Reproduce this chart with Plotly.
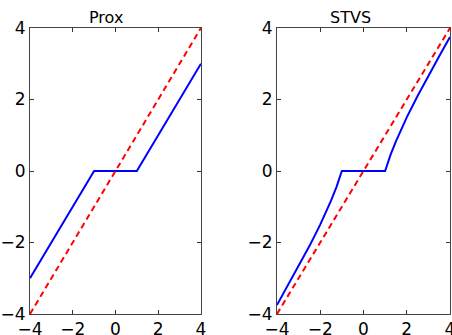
import plotly.graph_objects as go
from plotly.subplots import make_subplots

# Data
ident_x = [-4, 4]
ident_y = [-4, 4]

prox_x = [-4, -1, 1, 4]
prox_y = [-3, 0, 0, 3]

stvs_x = [-4, -3.5, -3, -2.5, -2, -1.75, -1.5, -1.25, -1, 1, 1.25, 1.5, 1.75, 2, 2.5, 3, 3.5, 4]
stvs_y = [-3.75, -3.21, -2.67, -2.1, -1.5, -1.18, -0.83, -0.45, 0, 0, 0.45, 0.83, 1.18, 1.5, 2.1, 2.67, 3.21, 3.75]

tick_vals = [-4, -2, 0, 2, 4]
titles = ["Prox", "STVS"]

fig = make_subplots(rows=1, cols=2, horizontal_spacing=0.18)

for col, (sx, sy) in enumerate([(prox_x, prox_y), (stvs_x, stvs_y)], start=1):
    fig.add_trace(go.Scatter(x=sx, y=sy, mode="lines",
                             line=dict(color="#0000ff", width=2),
                             showlegend=False), row=1, col=col)
    fig.add_trace(go.Scatter(x=ident_x, y=ident_y, mode="lines",
                             line=dict(color="#ff0000", width=2, dash="6px,4px"),
                             showlegend=False), row=1, col=col)

axis_common = dict(range=[-4, 4], tickvals=tick_vals, ticks="inside", ticklen=4,
                   tickcolor="#333", showline=True, linecolor="#444", linewidth=1,
                   mirror="allticks", showgrid=False, zeroline=False, automargin=False,
                   ticklabeloverflow="allow",
                   tickfont=dict(family="DejaVu Sans", size=17, color="black"))

fig.update_layout(
    width=452, height=335,
    margin=dict(l=30, r=2, t=28, b=21),
    plot_bgcolor="white", paper_bgcolor="white",
    xaxis=dict(domain=[0, 0.407], **axis_common),
    xaxis2=dict(domain=[0.588, 1.0], **axis_common),
    yaxis=dict(**axis_common),
    yaxis2=dict(**axis_common),
)

fig.layout.annotations = []
title_x = [105.6, 350.5]
for t, px in zip(titles, title_x):
    fig.add_annotation(text=t, x=(px - 30) / 420, xref="paper", y=1.0, yref="paper",
                       yshift=-1, xanchor="center", yanchor="bottom", showarrow=False,
                       font=dict(family="DejaVu Sans", size=16, color="black"))

fig.write_html("out.html")
